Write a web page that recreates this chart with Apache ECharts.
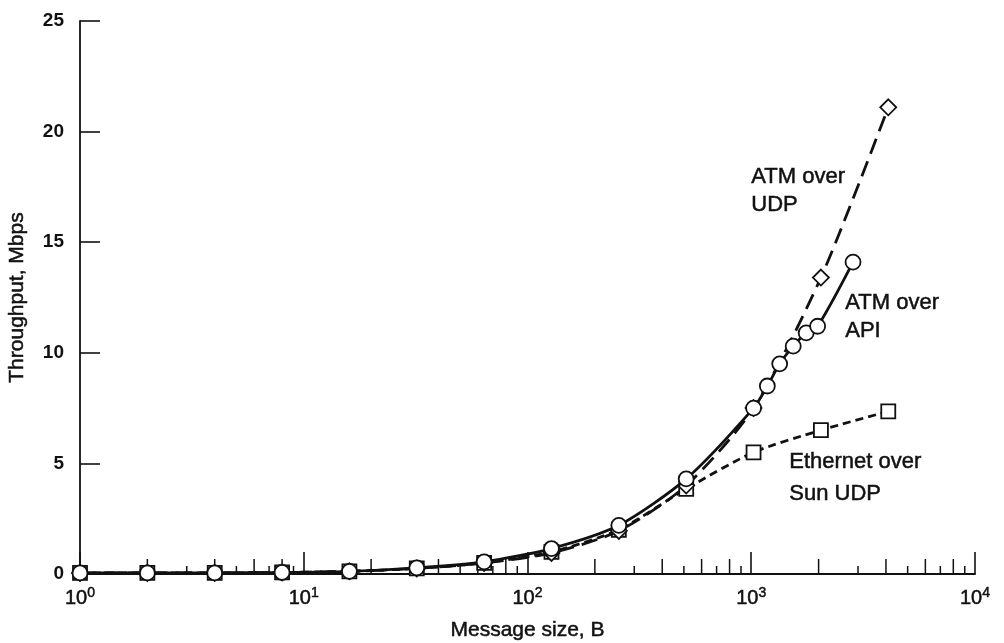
<!DOCTYPE html>
<html>
<head>
<meta charset="utf-8">
<script src="https://cdn.jsdelivr.net/npm/echarts@6/dist/echarts.min.js"></script>
<style>
  html, body { margin: 0; padding: 0; background: #fff; }
  #chart { width: 1004px; height: 643px; }
</style>
</head>
<body>
<div id="chart"></div>
<script>
// Message sizes (bytes) and measured throughput (Mbps)
const sizesApi = [1, 2, 4, 8, 16, 32, 64, 128, 256, 512, 1024, 1180, 1340, 1540, 1760, 1980, 2850];
const sizesWide = [1, 2, 4, 8, 16, 32, 64, 128, 256, 512, 1024, 2048, 4096];

const atmApi = [0.05, 0.05, 0.05, 0.07, 0.12, 0.28, 0.55, 1.15, 2.2, 4.3, 7.5, 8.5, 9.5, 10.3, 10.9, 11.2, 14.1];
const atmUdp = [0.05, 0.05, 0.05, 0.07, 0.12, 0.25, 0.5, 0.95, 1.95, 4.0, 7.5, 13.4, 21.1];
const ethernet = [0.05, 0.05, 0.05, 0.07, 0.12, 0.25, 0.5, 1.0, 2.0, 3.85, 5.5, 6.5, 7.35];

// Axis ticks
const yTicks = [0, 5, 10, 15, 20, 25];
const decades = [1, 10, 100, 1000, 10000];
const minorMultipliers = [2, 3, 4, 5, 6, 7, 8, 9];

const FONT = '"Liberation Sans", Arial, Helvetica, sans-serif';
const INK = '#111';

function pairs(xs, ys) { return xs.map((x, i) => [x, ys[i]]); }

const minorTicks = [];
decades.slice(0, -1).forEach(d => minorMultipliers.forEach(m => minorTicks.push([d * m, 0, m])));

const chart = echarts.init(document.getElementById('chart'), null, { renderer: 'canvas' });

const markerStyle = { color: '#fff', borderColor: INK, borderWidth: 1.8 };
// slightly heavier text to match the printed lettering
const heavy = { textBorderColor: INK, textBorderWidth: 0.5 };

chart.setOption({
  animation: false,
  backgroundColor: '#fff',
  grid: { left: 80, right: 29, top: 21, bottom: 69, containLabel: false, outerBoundsMode: 'none' },
  xAxis: {
    type: 'log',
    logBase: 10,
    min: 1,
    max: 10000,
    name: 'Message size, B',
    nameLocation: 'middle',
    nameGap: 46,
    nameTextStyle: Object.assign({ fontFamily: FONT, fontSize: 21, color: INK }, heavy),
    axisLine: { show: true, onZero: false, lineStyle: { color: INK, width: 1.8 } },
    axisTick: { show: true, inside: true, length: 22, lineStyle: { color: INK, width: 1.6 } },
    splitLine: { show: false },
    minorTick: { show: false },
    axisLabel: {
      margin: 12,
      formatter: v => '{b|10}{s|' + Math.round(Math.log10(v)) + '}',
      rich: {
        b: Object.assign({ fontFamily: FONT, fontSize: 20, color: INK }, heavy),
        s: Object.assign({ fontFamily: FONT, fontSize: 14, color: INK, verticalAlign: 'top', padding: [0, 0, 10, 0] }, heavy)
      }
    }
  },
  yAxis: {
    type: 'value',
    min: 0,
    max: 25,
    interval: 5,
    name: 'Throughput, Mbps',
    nameLocation: 'middle',
    nameGap: 52,
    nameTextStyle: Object.assign({ fontFamily: FONT, fontSize: 21, color: INK }, heavy),
    axisLine: { show: true, lineStyle: { color: INK, width: 1.8 } },
    axisTick: { show: true, inside: true, length: 20, lineStyle: { color: INK, width: 1.6 } },
    splitLine: { show: false },
    axisLabel: {
      margin: 16,
      fontFamily: FONT, fontSize: 19, fontWeight: 'bold', color: INK,
      formatter: v => (yTicks.indexOf(v) >= 0 ? String(v) : '')
    }
  },
  series: [
    {
      // Minor log ticks: even multiples long, odd multiples short
      type: 'custom',
      silent: true,
      clip: false,
      z: 1,
      data: minorTicks,
      renderItem: (params, api) => {
        const p = api.coord([api.value(0), 0]);
        const len = api.value(2) % 2 === 0 ? 15 : 8;
        return {
          type: 'line',
          shape: { x1: p[0], y1: p[1], x2: p[0], y2: p[1] - len },
          style: { stroke: INK, lineWidth: 1.5 }
        };
      }
    },
    {
      name: 'Ethernet over Sun UDP',
      type: 'line',
      data: pairs(sizesWide, ethernet),
      smooth: 0.25,
      symbol: 'rect',
      symbolSize: 14,
      itemStyle: markerStyle,
      lineStyle: { color: INK, width: 2.8, type: [8, 5] },
      z: 3
    },
    {
      name: 'ATM over UDP',
      type: 'line',
      data: pairs(sizesWide, atmUdp),
      smooth: 0.25,
      symbol: 'diamond',
      symbolSize: 16,
      itemStyle: markerStyle,
      lineStyle: { color: INK, width: 2.8, type: [16, 8] },
      z: 4
    },
    {
      name: 'ATM over API',
      type: 'line',
      data: pairs(sizesApi, atmApi),
      smooth: 0.25,
      symbol: 'circle',
      symbolSize: 15,
      itemStyle: markerStyle,
      lineStyle: { color: INK, width: 2.8 },
      z: 5
    }
  ],
  graphic: [
    { type: 'text', left: 751, top: 163, style: Object.assign({ text: 'ATM over\nUDP', font: '22px ' + FONT, fill: INK, lineHeight: 28 }, { stroke: INK, lineWidth: 0.5 }) },
    { type: 'text', left: 845, top: 289, style: Object.assign({ text: 'ATM over\nAPI', font: '22px ' + FONT, fill: INK, lineHeight: 28 }, { stroke: INK, lineWidth: 0.5 }) },
    { type: 'text', left: 789, top: 446, style: Object.assign({ text: 'Ethernet over\nSun UDP', font: '22px ' + FONT, fill: INK, lineHeight: 32 }, { stroke: INK, lineWidth: 0.5 }) }
  ]
});
</script>
</body>
</html>
